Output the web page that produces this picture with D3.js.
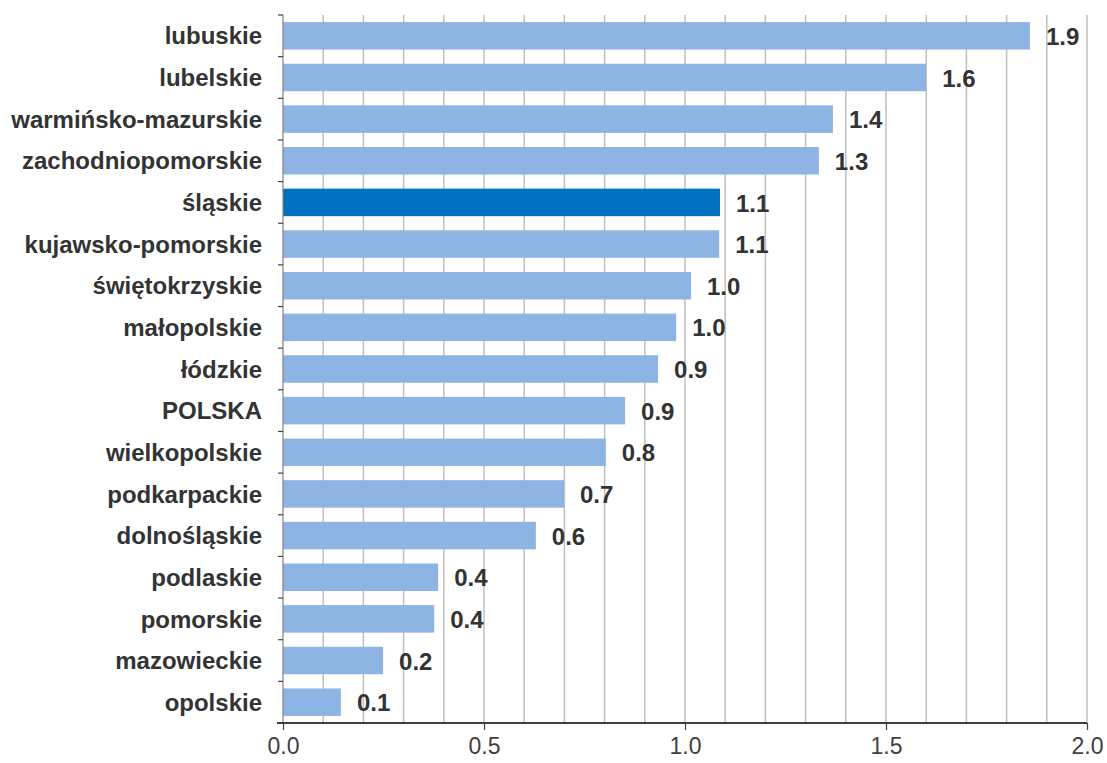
<!DOCTYPE html>
<html>
<head>
<meta charset="utf-8">
<script src="https://cdn.jsdelivr.net/npm/d3@7"></script>
<style>
  body { margin: 0; background: #fff; }
  svg { display: block; font-family: "Liberation Sans", Arial, sans-serif; }
</style>
</head>
<body>
<svg></svg>
<script>
// Chart data, top row first
const regions = ["lubuskie", "lubelskie", "warmińsko-mazurskie", "zachodniopomorskie", "śląskie",
  "kujawsko-pomorskie", "świętokrzyskie", "małopolskie", "łódzkie", "POLSKA", "wielkopolskie",
  "podkarpackie", "dolnośląskie", "podlaskie", "pomorskie", "mazowieckie", "opolskie"];
const values = [1.858, 1.60, 1.368, 1.333, 1.087, 1.085, 1.015, 0.978, 0.933, 0.851, 0.803,
  0.699, 0.629, 0.386, 0.376, 0.249, 0.144];
const valueLabels = ["1.9", "1.6", "1.4", "1.3", "1.1", "1.1", "1.0", "1.0", "0.9", "0.9", "0.8",
  "0.7", "0.6", "0.4", "0.4", "0.2", "0.1"];
const highlight = "śląskie";
const xTicks = [0, 0.5, 1.0, 1.5, 2.0];
const gridTicks = d3.range(1, 21).map(i => i / 10);

const width = 1107, height = 763;
const margin = { top: 15, right: 20, bottom: 40, left: 283 };
const svg = d3.select("svg").attr("width", width).attr("height", height);

const x = d3.scaleLinear().domain([0, 2]).range([margin.left, width - margin.right]);
const y = d3.scaleBand().domain(regions).range([margin.top, height - margin.bottom]).paddingInner(0.34).paddingOuter(0.17);
const yRows = d3.scaleBand().domain(regions).range([margin.top, height - margin.bottom]);

// vertical gridlines
svg.append("g").selectAll("line")
  .data(gridTicks)
  .enter().append("line")
  .attr("x1", d => x(d)).attr("x2", d => x(d))
  .attr("y1", margin.top).attr("y2", height - margin.bottom)
  .attr("stroke", "#bfbfbf").attr("stroke-width", 1.5);

// bars
svg.append("g").selectAll("rect")
  .data(regions)
  .enter().append("rect")
  .attr("x", x(0))
  .attr("y", d => y(d))
  .attr("width", (d, i) => x(values[i]) - x(0))
  .attr("height", y.bandwidth())
  .attr("fill", d => d === highlight ? "#0070c0" : "#8eb4e3");

// value labels
svg.append("g").selectAll("text")
  .data(regions)
  .enter().append("text")
  .attr("x", (d, i) => x(values[i]) + 16)
  .attr("y", d => y(d) + y.bandwidth() / 2)
  .attr("dy", "0.38em")
  .attr("font-size", "24px").attr("font-weight", "bold").attr("fill", "#333")
  .text((d, i) => valueLabels[i]);

// left axis with ticks at row boundaries
const yAxis = svg.append("g");
yAxis.append("line")
  .attr("x1", x(0)).attr("x2", x(0))
  .attr("y1", margin.top).attr("y2", height - margin.bottom)
  .attr("stroke", "#808080").attr("stroke-width", 1.2);
yAxis.selectAll("line.tick")
  .data(regions)
  .enter().append("line").attr("class", "tick")
  .attr("x1", x(0) - 5).attr("x2", x(0))
  .attr("y1", d => yRows(d)).attr("y2", d => yRows(d))
  .attr("stroke", "#404040").attr("stroke-width", 1.2);
yAxis.selectAll("text")
  .data(regions)
  .enter().append("text")
  .attr("x", x(0) - 21)
  .attr("y", d => y(d) + y.bandwidth() / 2)
  .attr("dy", "0.36em")
  .attr("text-anchor", "end")
  .attr("font-size", "24px").attr("font-weight", "bold").attr("fill", "#333")
  .text(d => d);

// bottom axis
const xAxis = svg.append("g")
  .attr("transform", `translate(0,${height - margin.bottom})`)
  .call(d3.axisBottom(x).tickValues(xTicks).tickFormat(d3.format(".1f")).tickSize(7).tickPadding(8));
xAxis.select(".domain").attr("d", `M${x(0) - 6},0H${x(2)}`).attr("stroke", "#000").attr("stroke-width", 1.5);
xAxis.selectAll(".tick line").attr("stroke", "#404040").attr("stroke-width", 1.2);
xAxis.selectAll(".tick text")
  .attr("font-size", "23px").attr("font-family", "Liberation Sans, Arial, sans-serif").attr("fill", "#404040");
</script>
</body>
</html>
